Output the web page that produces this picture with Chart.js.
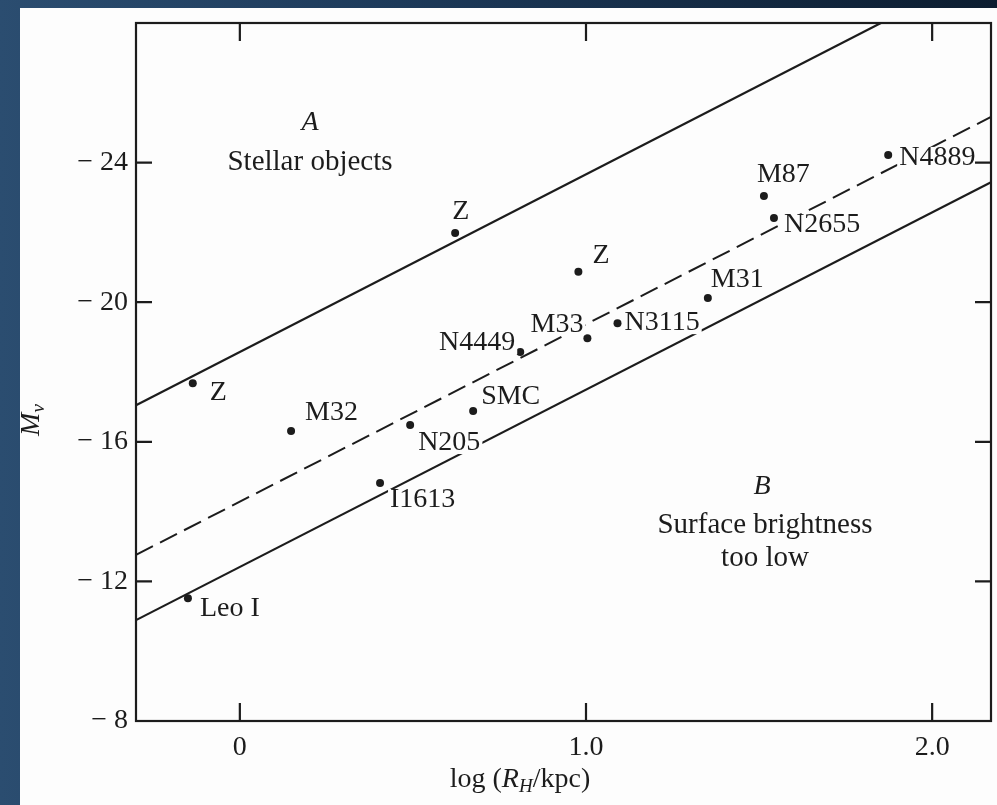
<!DOCTYPE html>
<html>
<head>
<meta charset="utf-8">
<script src="https://cdn.jsdelivr.net/npm/chart.js@4.4.1/dist/chart.umd.min.js"></script>
<style>
  html, body { margin: 0; padding: 0; }
  body {
    width: 997px; height: 805px; overflow: hidden; position: relative;
    background: linear-gradient(90deg, #2b4d70 0%, #1d3a5a 40%, #0c1d30 100%);
  }
  #paper { position: absolute; left: 20px; top: 8px; right: 0; bottom: 0; background: #fdfdfd; }
  #chart { position: absolute; left: 0; top: 0; }
</style>
</head>
<body>
<div id="paper"></div>
<canvas id="chart" width="997" height="805"></canvas>
<script>
// galaxies: log(R_H/kpc) against M_V
const galaxyNames = ['Z', 'Z', 'Z', 'M32', 'Leo I', 'I1613', 'N205', 'SMC', 'N4449', 'M33', 'N3115', 'M31', 'M87', 'N2655', 'N4889'];
const galaxyLogR  = [-0.136, 0.622, 0.978, 0.148, -0.15, 0.405, 0.492, 0.674, 0.81, 1.004, 1.091, 1.352, 1.514, 1.543, 1.873];
const galaxyMv    = [-17.68, -21.98, -20.87, -16.31, -11.52, -14.82, -16.48, -16.88, -18.57, -18.97, -19.40, -20.12, -23.04, -22.41, -24.22];

// boundary lines (A: stellar objects, B: surface brightness too low) and the mean relation
const upperLineX = [-0.3, 1.852];
const upperLineY = [-17.05, -28];
const meanLineX = [-0.3, 2.17];
const meanLineY = [-12.76, -25.31];
const lowerLineX = [-0.3, 2.17];
const lowerLineY = [-10.89, -23.44];

const xTickValues = [0, 1, 2];
const xTickLabels = ['0', '1.0', '2.0'];
const yTickValues = [-24, -20, -16, -12, -8];
const yTickLabels = ['\u2212 24', '\u2212 20', '\u2212 16', '\u2212 12', '\u2212 8'];

// where each name sits next to its dot (px offset, alignment)
const labelPlace = [
  [17, 9, 'left'], [-3, -21, 'left'], [14, -16, 'left'], [14, -18, 'left'],
  [12, 10, 'left'], [10, 17, 'left'], [8, 18, 'left'], [8, -14, 'left'],
  [-5, -9, 'right'], [-4, -14, 'right'], [7, 0, 'left'], [3, -18, 'left'],
  [-7, -21, 'left'], [10, 7, 'left'], [11, 3, 'left']
];

const ink = '#1c1c1c';
const serif = '"Liberation Serif", "DejaVu Serif", serif';

function toPoints(xs, ys) {
  return xs.map((x, i) => ({ x: x, y: ys[i] }));
}

function richText(ctx, parts, x, y) {
  // parts: [text, italic, sub]
  let w = 0;
  parts.forEach(p => {
    ctx.font = (p[1] ? 'italic ' : '') + (p[2] ? '19px ' : '28px ') + serif;
    w += ctx.measureText(p[0]).width;
  });
  let cx = x - w / 2;
  parts.forEach(p => {
    ctx.font = (p[1] ? 'italic ' : '') + (p[2] ? '19px ' : '28px ') + serif;
    ctx.textAlign = 'left';
    ctx.fillText(p[0], cx, p[2] ? y + 7 : y);
    cx += ctx.measureText(p[0]).width;
  });
}

const decorations = {
  id: 'decorations',
  afterDatasetsDraw(chart) {
    const ctx = chart.ctx;
    const xs = chart.scales.x, ys = chart.scales.y;
    const a = chart.chartArea;
    ctx.save();
    ctx.fillStyle = ink;
    ctx.textBaseline = 'middle';

    // galaxy names, with a white patch that breaks the lines behind them
    ctx.font = '28px ' + serif;
    galaxyNames.forEach((name, i) => {
      const px = xs.getPixelForValue(galaxyLogR[i]) + labelPlace[i][0];
      const py = ys.getPixelForValue(galaxyMv[i]) + labelPlace[i][1];
      const w = ctx.measureText(name).width;
      const left = labelPlace[i][2] === 'right' ? px - w : px;
      ctx.fillStyle = '#fdfdfd';
      ctx.fillRect(left - 2, py - 11, w + 4, 22);
      ctx.fillStyle = ink;
      ctx.textAlign = labelPlace[i][2];
      ctx.fillText(name, px, py);
    });

    // region annotations
    ctx.textAlign = 'center';
    ctx.font = 'italic 28px ' + serif;
    ctx.fillText('A', 310, 123);
    ctx.fillText('B', 762, 487);
    ctx.font = '29px ' + serif;
    ctx.fillText('Stellar objects', 310, 162);
    ctx.fillText('Surface brightness', 765, 525);
    ctx.fillText('too low', 765, 558);

    // frame and inward ticks
    ctx.strokeStyle = ink;
    ctx.lineWidth = 2.2;
    ctx.strokeRect(a.left, a.top, a.right - a.left, a.bottom - a.top);
    ctx.beginPath();
    xTickValues.forEach(v => {
      const px = xs.getPixelForValue(v);
      ctx.moveTo(px, a.bottom); ctx.lineTo(px, a.bottom - 18);
      ctx.moveTo(px, a.top); ctx.lineTo(px, a.top + 18);
    });
    yTickValues.forEach(v => {
      const py = ys.getPixelForValue(v);
      ctx.moveTo(a.left, py); ctx.lineTo(a.left + 16, py);
      ctx.moveTo(a.right, py); ctx.lineTo(a.right - 16, py);
    });
    ctx.stroke();

    // tick labels
    ctx.font = '28px ' + serif;
    ctx.textAlign = 'center';
    xTickValues.forEach((v, i) => ctx.fillText(xTickLabels[i], xs.getPixelForValue(v), a.bottom + 27));
    ctx.textAlign = 'right';
    yTickValues.forEach((v, i) => ctx.fillText(yTickLabels[i], a.left - 8, ys.getPixelForValue(v)));

    // axis titles
    richText(ctx, [['log (', false, false], ['R', true, false], ['H', true, true], ['/kpc)', false, false]], 520, 780);
    ctx.translate(32, 420);
    ctx.rotate(-Math.PI / 2);
    richText(ctx, [['M', true, false], ['v', true, true]], 0, 0);
    ctx.restore();
  }
};

new Chart(document.getElementById('chart'), {
  type: 'scatter',
  data: {
    datasets: [
      {
        label: 'upper',
        data: toPoints(upperLineX, upperLineY),
        showLine: true, borderColor: ink, borderWidth: 2.2, pointRadius: 0
      },
      {
        label: 'mean',
        data: toPoints(meanLineX, meanLineY),
        showLine: true, borderColor: ink, borderWidth: 2, borderDash: [19, 8], pointRadius: 0
      },
      {
        label: 'lower',
        data: toPoints(lowerLineX, lowerLineY),
        showLine: true, borderColor: ink, borderWidth: 2.2, pointRadius: 0
      },
      {
        label: 'galaxies',
        data: toPoints(galaxyLogR, galaxyMv),
        showLine: false, pointRadius: 4, pointBackgroundColor: ink, pointBorderWidth: 0
      }
    ]
  },
  options: {
    responsive: false,
    animation: false,
    layout: { padding: { left: 136, top: 23, right: 6, bottom: 84 } },
    scales: {
      x: { type: 'linear', display: false, min: -0.3, max: 2.17 },
      y: { type: 'linear', display: false, min: -28, max: -8, reverse: true }
    },
    plugins: {
      legend: { display: false },
      tooltip: { enabled: false }
    }
  },
  plugins: [decorations]
});
</script>
</body>
</html>
